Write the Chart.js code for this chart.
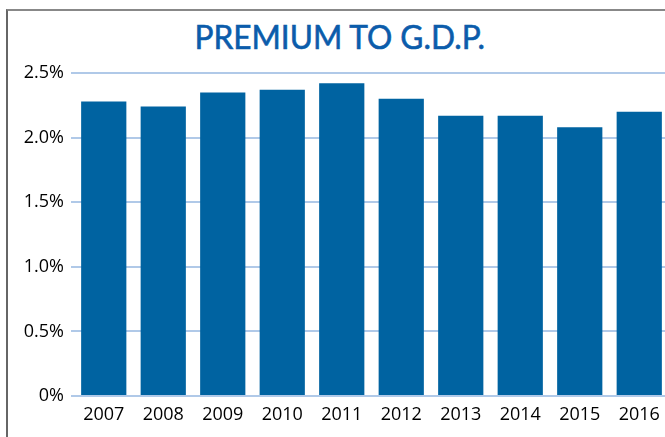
<!DOCTYPE html>
<html lang="en">
<head>
  <meta charset="UTF-8">
  <title>Premium to G.D.P.</title>
  <script src="https://cdn.jsdelivr.net/npm/chart.js"></script>
  <style>
    html, body {
      margin: 0;
      padding: 0;
      background: #fff;
      overflow: hidden;
      width: 665px;
      height: 437px;
    }
    .frame {
      position: absolute;
      left: 6px;
      top: 9px;
      width: 700px;
      height: 500px;
      border-left: 2px solid #666;
      border-top: 2px solid #888;
    }
    .title {
      position: absolute;
      left: 0;
      top: 16px;
      width: 680px;
      text-align: center;
      font-family: Lato, sans-serif;
      font-size: 33px;
      color: #0b5cab;
      -webkit-text-stroke: 0.6px #0b5cab;
      white-space: nowrap;
    }
    .title span {
      display: inline-block;
      transform-origin: center;
    }
    .wrap {
      position: absolute;
      left: 0;
      top: 0;
      width: 669px;
      height: 437px;
    }
  </style>
</head>
<body>
  <div class="frame"></div>
  <div class="title"><span id="titleText">PREMIUM TO G.D.P.</span></div>
  <div class="wrap"><canvas id="premiumChart"></canvas></div>

  <script>
    // data
    const years = ['2007', '2008', '2009', '2010', '2011', '2012', '2013', '2014', '2015', '2016'];
    const premiumPct = [2.28, 2.24, 2.35, 2.37, 2.42, 2.30, 2.17, 2.17, 2.08, 2.20];

    // squeeze the title to the width of the original (condensed face)
    const t = document.getElementById('titleText');
    t.style.transform = 'scaleX(' + (290 / t.offsetWidth) + ')';

    const ctx = document.getElementById('premiumChart').getContext('2d');
    new Chart(ctx, {
      type: 'bar',
      data: {
        labels: years,
        datasets: [{
          label: 'Premium to GDP',
          data: premiumPct,
          backgroundColor: '#0063a1',
          categoryPercentage: 1,
          barPercentage: 0.76
        }]
      },
      options: {
        responsive: true,
        maintainAspectRatio: false,
        animation: false,
        layout: { padding: { top: 73, left: 0, right: 0, bottom: 0 } },
        plugins: {
          legend: { display: false },
          tooltip: { enabled: false }
        },
        scales: {
          x: {
            grid: { display: false, drawTicks: false },
            border: { display: false },
            ticks: {
              color: '#000',
              padding: 8,
              font: { family: 'Open Sans', size: 18 }
            },
            afterFit: scale => { scale.height = 41; }
          },
          y: {
            min: 0,
            max: 2.5,
            border: { display: false },
            grid: {
              color: '#b0c9e8',
              lineWidth: 2,
              tickLength: 3
            },
            ticks: {
              stepSize: 0.5,
              color: '#000',
              padding: 7,
              font: { family: 'Open Sans', size: 18 },
              callback: v => v === 0 ? '0%' : v.toFixed(1) + '%'
            },
            afterFit: scale => { scale.width = 74; }
          }
        }
      }
    });
  </script>
</body>
</html>
